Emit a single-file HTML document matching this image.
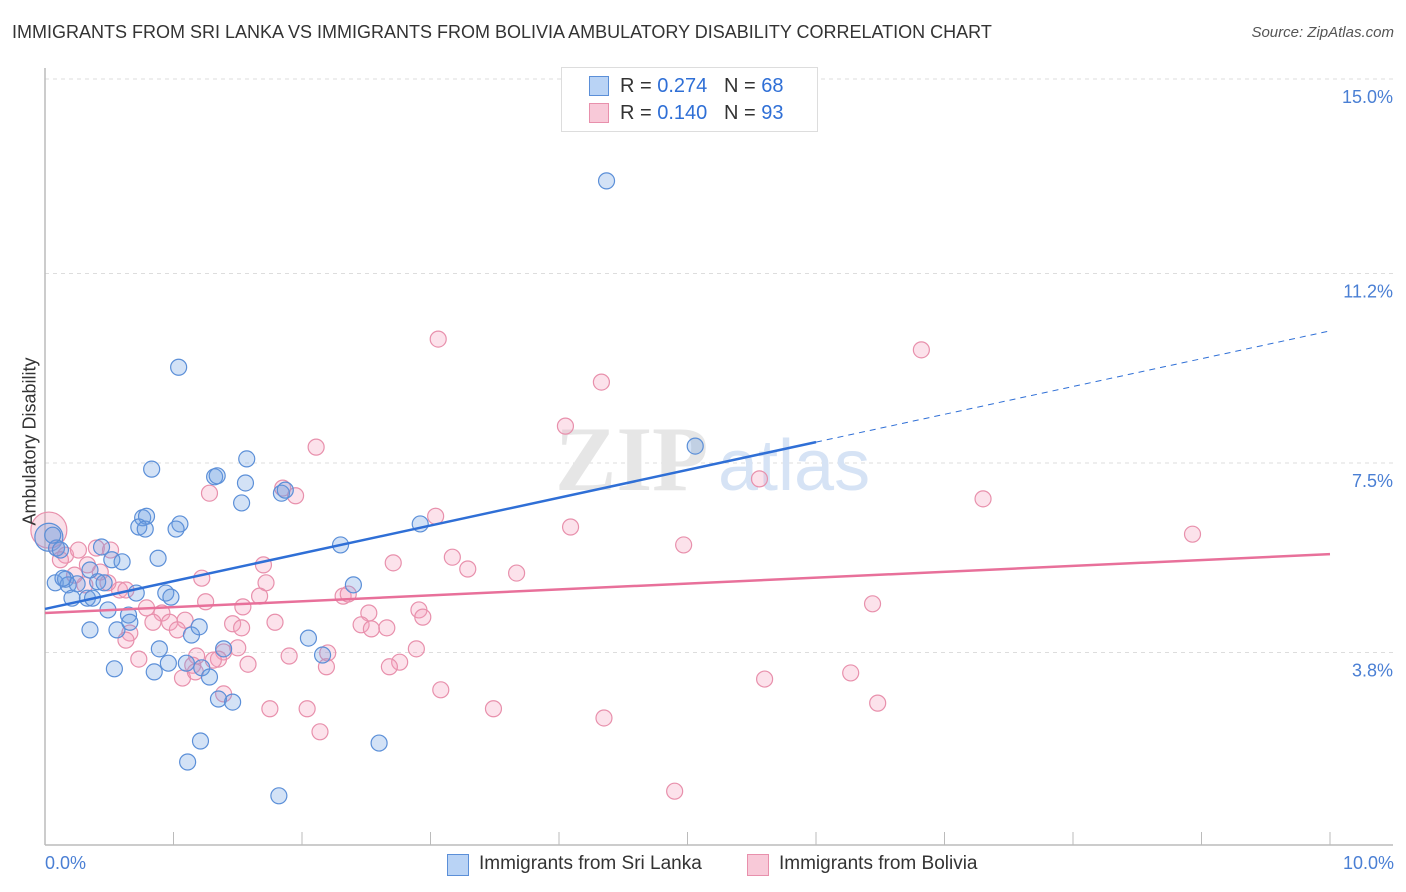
<!DOCTYPE html>
<html><head><meta charset="utf-8"><style>
body{margin:0;background:#fff;font-family:"Liberation Sans",sans-serif}
#wrap{position:relative;width:1406px;height:892px}
.t{position:absolute;white-space:nowrap}
</style></head><body>
<div id="wrap">
<div class="t" style="left:12px;top:22px;font-size:18px;color:#333">IMMIGRANTS FROM SRI LANKA VS IMMIGRANTS FROM BOLIVIA AMBULATORY DISABILITY CORRELATION CHART</div>
<div class="t" style="right:12px;top:24px;font-size:15px;color:#555;font-style:italic">Source: ZipAtlas.com</div>
<svg id="svg" width="1406" height="892" style="position:absolute;left:0;top:0"></svg>
</div>
<script>
const xTicks=[0,1,2,3,4,5,6,7,8,9,10];
const yTicks=[3.8,7.5,11.2,15.0];
const yTickLabels=["3.8%","7.5%","11.2%","15.0%"];
const blueX=[4.37,1.04,0.83,1.57,1.32,1.34,1.56,1.53,1.84,1.87,0.76,0.79,0.73,0.78,1.05,1.02,2.92,2.30,0.88,0.44,0.52,0.60,0.09,0.06,0.08,0.16,0.18,0.25,0.21,0.33,0.37,0.41,0.49,0.71,0.94,0.98,0.65,0.35,0.56,0.66,0.89,1.14,1.20,0.85,0.96,1.10,1.22,1.28,1.39,0.54,1.35,1.46,2.05,2.16,2.40,1.21,1.11,2.60,1.82,5.06,0.46,0.12,0.35,0.14];
const blueY=[13.01,9.37,7.38,7.58,7.23,7.25,7.11,6.72,6.91,6.97,6.43,6.46,6.25,6.21,6.31,6.21,6.31,5.90,5.64,5.86,5.61,5.57,5.84,6.09,5.16,5.23,5.12,5.14,4.86,4.86,4.86,5.18,4.63,4.96,4.96,4.88,4.53,4.24,4.24,4.39,3.87,4.14,4.30,3.42,3.59,3.59,3.50,3.32,3.87,3.48,2.89,2.83,4.08,3.75,5.12,2.07,1.66,2.03,1.00,7.83,5.16,5.80,5.41,5.25];
const pinkX=[3.06,6.82,4.33,4.05,2.11,5.56,7.30,8.93,4.09,4.97,3.04,1.28,1.85,1.95,3.17,3.29,3.67,2.71,1.70,1.72,1.22,1.67,1.54,1.25,0.79,0.91,0.97,1.09,1.03,0.84,0.66,0.63,1.46,1.53,1.79,2.32,2.36,2.52,2.46,2.54,2.66,2.91,2.94,2.20,2.19,1.90,1.50,1.39,1.35,1.18,1.15,1.07,1.17,1.31,0.73,1.58,2.76,2.68,2.89,3.08,1.39,1.75,2.04,2.14,3.49,4.35,5.60,6.27,6.48,6.44,4.90,0.09,0.16,0.26,0.40,0.51,0.43,0.31,0.58,0.49,0.23,0.33,0.63,0.12];
const pinkY=[9.92,9.71,9.08,8.22,7.81,7.19,6.80,6.11,6.25,5.90,6.46,6.91,7.01,6.86,5.66,5.43,5.35,5.55,5.51,5.16,5.25,4.90,4.69,4.79,4.67,4.57,4.39,4.43,4.24,4.39,4.18,4.04,4.36,4.28,4.39,4.90,4.94,4.57,4.34,4.26,4.28,4.63,4.49,3.79,3.52,3.73,3.89,3.81,3.67,3.73,3.55,3.30,3.42,3.65,3.67,3.57,3.61,3.52,3.87,3.07,2.99,2.70,2.70,2.25,2.70,2.52,3.28,3.40,2.81,4.75,1.09,5.84,5.70,5.80,5.84,5.80,5.37,5.12,5.02,5.16,5.31,5.51,5.02,5.61];
const blueBigX=[0.03], blueBigY=[6.05];
const pinkBigX=[0.03], pinkBigY=[6.19];
const blueTrend=[4.65,0.543]; // intercept, slope
const pinkTrend=[4.57,0.115];
const blueSolidEnd=6.0;

const X0=45,X1=1330,YT=79,PXPER=51.2;
const sx=v=>X0+(X1-X0)*v/10;
const sy=v=>YT+(15-v)*PXPER;
const svg=document.getElementById('svg');
const NS='http://www.w3.org/2000/svg';
function mk(tag,attrs){const e=document.createElementNS(NS,tag);for(const k in attrs)e.setAttribute(k,attrs[k]);svg.appendChild(e);return e;}

yTicks.forEach((v,i)=>{
  const g=mk('line',{x1:45,x2:1393,y1:sy(v),y2:sy(v),stroke:'#ddd','stroke-dasharray':'4,4'});
  
  
  const t=mk('text',{x:1393,y:sy(v)+24,'text-anchor':'end','font-size':18,fill:'#4a7fd4','font-family':'Liberation Sans, sans-serif'});
  t.textContent=yTickLabels[i];
  
  
});
const ax=mk('line',{x1:45,x2:45,y1:68,y2:845,stroke:'#bbb','stroke-width':1.5});


const bx=mk('line',{x1:45,x2:1393,y1:845,y2:845,stroke:'#bbb','stroke-width':1.5});


xTicks.forEach(v=>{
  const l=mk('line',{x1:sx(v),x2:sx(v),y1:832,y2:845,stroke:'#bbb'});
  
  
});
// watermark
const wm=mk('text',{x:555,y:490,'font-size':92,fill:'#e6e6e6','font-family':'Liberation Serif, serif','font-weight':'bold'});
wm.textContent='ZIP';


const wm2=mk('text',{x:718,y:490,'font-size':72,fill:'#d6e3f5','font-family':'Liberation Sans, sans-serif'});
wm2.textContent='atlas';



function dots(xs,ys,fill,stroke,r,name){
  xs.forEach((x,i)=>{
    const c=mk('circle',{cx:sx(x),cy:sy(ys[i]),r:r,fill:fill,stroke:stroke,'stroke-width':1.2});
    
    
  });
}
dots(pinkBigX,pinkBigY,'rgba(240,150,180,0.3)','#e890ac',18,'bolivia-point-large');
dots(blueBigX,blueBigY,'rgba(110,160,225,0.3)','#5b8fd8',14,'sri-lanka-point-large');
dots(pinkX,pinkY,'rgba(245,160,190,0.3)','#e890ac',8,'bolivia-point');
dots(blueX,blueY,'rgba(110,160,225,0.3)','#5b8fd8',8,'sri-lanka-point');

const bt=x=>blueTrend[0]+blueTrend[1]*x, pt=x=>pinkTrend[0]+pinkTrend[1]*x;
let l=mk('line',{x1:sx(0),y1:sy(bt(0)),x2:sx(blueSolidEnd),y2:sy(bt(blueSolidEnd)),stroke:'#2f6fd6','stroke-width':2.5});


l=mk('line',{x1:sx(blueSolidEnd),y1:sy(bt(blueSolidEnd)),x2:sx(10),y2:sy(bt(10)),stroke:'#2f6fd6','stroke-width':1,'stroke-dasharray':'6,5'});


l=mk('line',{x1:sx(0),y1:sy(pt(0)),x2:sx(10),y2:sy(pt(10)),stroke:'#e8709a','stroke-width':2.5});


</script>
<div class="t" style="left:-40px;top:445px;transform:rotate(-90deg);font-size:18px;color:#333;width:140px;text-align:center">Ambulatory Disability</div>
<div class="t" style="left:45px;top:853px;font-size:18px;color:#4a7fd4">0.0%</div>
<div class="t" style="right:12px;top:853px;font-size:18px;color:#4a7fd4">10.0%</div>
<div style="position:absolute;left:561px;top:67px;width:255px;height:63px;border:1px solid #ddd;background:#fff;font-size:20px;color:#333">
 <div style="position:absolute;left:27px;top:8px;width:18px;height:18px;background:#b9d3f5;border:1px solid #5b8fd8"></div>
 <div class="t" style="left:58px;top:7px">R = <span style="color:#2f6fd6">0.274</span>&nbsp;&nbsp;&nbsp;N = <span style="color:#2f6fd6">68</span></div>
 <div style="position:absolute;left:27px;top:35px;width:18px;height:18px;background:#f8c9d8;border:1px solid #e890ac"></div>
 <div class="t" style="left:58px;top:34px">R = <span style="color:#2f6fd6">0.140</span>&nbsp;&nbsp;&nbsp;N = <span style="color:#2f6fd6">93</span></div>
</div>
<div style="position:absolute;left:447px;top:853px;font-size:19px;color:#333">
 <div style="position:absolute;left:0;top:1px;width:20px;height:20px;background:#b9d3f5;border:1px solid #5b8fd8"></div>
 <div class="t" style="left:32px;top:0">Immigrants from Sri Lanka</div></div>
<div style="position:absolute;left:747px;top:853px;font-size:19px;color:#333">
 <div style="position:absolute;left:0;top:1px;width:20px;height:20px;background:#f8c9d8;border:1px solid #e890ac"></div>
 <div class="t" style="left:32px;top:0">Immigrants from Bolivia</div></div>
</body></html>
